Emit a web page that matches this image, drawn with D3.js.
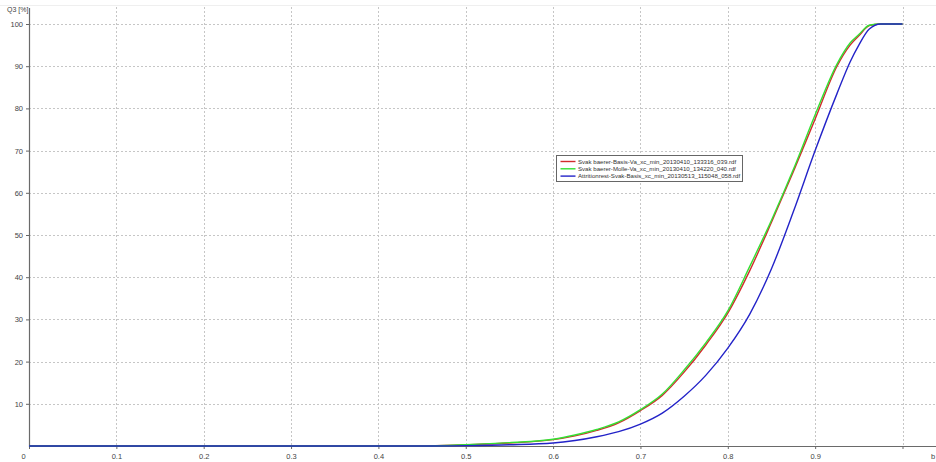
<!DOCTYPE html>
<html>
<head>
<meta charset="utf-8">
<script src="https://cdn.jsdelivr.net/npm/d3@7"></script>
<style>
  html, body { margin: 0; padding: 0; background: #fff; }
  svg { display: block; font-family: "Liberation Sans", Arial, sans-serif; }
</style>
</head>
<body>
<svg id="chart" width="936" height="462"></svg>
<script>
// Particle size (b) sample points shared by all series
const sizes = [0, 0.45, 0.5, 0.55, 0.6, 0.625, 0.65, 0.675, 0.7, 0.725, 0.75, 0.775, 0.8, 0.825, 0.85, 0.875, 0.9, 0.925, 0.94, 0.95, 0.962, 0.975, 1.0];

// Cumulative distribution Q3 [%] per measurement
const basisVa  = [0, 0, 0.3, 0.7, 1.5, 2.4, 3.7, 5.5, 8.4, 12, 17.5, 24, 31.5, 41.5, 53, 65, 77.5, 90, 95, 97.2, 99.6, 100, 100];
const molleVa  = [0, 0, 0.3, 0.8, 1.6, 2.6, 3.9, 5.7, 8.6, 12.3, 18, 24.5, 32, 42.5, 53.5, 65.5, 78.5, 90.5, 95.5, 97.5, 99.7, 100, 100];
const attrition = [0, 0, 0.1, 0.3, 0.7, 1.3, 2.2, 3.4, 5.2, 7.8, 11.8, 16.8, 23.2, 31.2, 42, 55.5, 70, 83.5, 91, 95, 98.8, 100, 100];

const seriesNames = [
  "Svak baerer-Basis-Va_xc_min_20130410_133316_039.rdf",
  "Svak baerer-Molle-Va_xc_min_20130410_134220_040.rdf",
  "Attritionrest-Svak-Basis_xc_min_20130513_115048_058.rdf"
];
const seriesColors = ["#d22c2c", "#33e033", "#2323c8"];
const seriesValues = [basisVa, molleVa, attrition];

const xTicks = [0, 0.1, 0.2, 0.3, 0.4, 0.5, 0.6, 0.7, 0.8, 0.9, 1.0];
const xTickLabels = ["0", "0.1", "0.2", "0.3", "0.4", "0.5", "0.6", "0.7", "0.8", "0.9", ""];
const yTicks = [10, 20, 30, 40, 50, 60, 70, 80, 90, 100];

const svg = d3.select("#chart");
const W = 936;
const plotLeft = 29, plotBottom = 446, plotTop = 24;

const x = d3.scaleLinear().domain([0, 1]).range([plotLeft, 902.5]);
const y = d3.scaleLinear().domain([0, 100]).range([plotBottom, plotTop]);

// faint frame line at the top
svg.append("line").attr("x1", 0).attr("x2", W).attr("y1", 5.5).attr("y2", 5.5)
  .attr("stroke", "#efefef").attr("stroke-width", 1);

// grid
const grid = svg.append("g").attr("stroke", "#c6c6c6").attr("stroke-dasharray", "2,2").attr("stroke-width", 1);
grid.selectAll("line.h").data(yTicks).join("line").attr("class", "h")
  .attr("x1", plotLeft).attr("x2", W)
  .attr("y1", d => Math.round(y(d)) + 0.5).attr("y2", d => Math.round(y(d)) + 0.5);
grid.selectAll("line.v").data(xTicks.slice(1)).join("line").attr("class", "v")
  .attr("y1", 7).attr("y2", plotBottom)
  .attr("x1", d => Math.round(x(d)) + 0.5).attr("x2", d => Math.round(x(d)) + 0.5);

// x axis
const xAxis = d3.axisBottom(x).tickValues(xTicks).tickSize(3).tickPadding(5)
  .tickFormat((d, i) => xTickLabels[i]);
const gx = svg.append("g").attr("transform", `translate(0,${plotBottom})`).call(xAxis);
gx.select(".domain").remove();
gx.selectAll(".tick line").attr("stroke", "#666");
gx.selectAll(".tick text").attr("fill", "#444").attr("font-size", 7.5)
  .attr("font-family", "Liberation Sans, Arial, sans-serif");
gx.selectAll(".tick text").filter(d => d === 0).attr("dx", -6);
svg.append("line").attr("x1", plotLeft).attr("x2", W).attr("y1", plotBottom + 0.5).attr("y2", plotBottom + 0.5)
  .attr("stroke", "#6a6a6a").attr("stroke-width", 1.2);
svg.append("text").attr("x", 931).attr("y", 459).attr("font-size", 7.5).attr("fill", "#444").text("b");

// y axis
const yAxis = d3.axisLeft(y).tickValues(yTicks).tickSize(3).tickPadding(3);
const gy = svg.append("g").attr("transform", `translate(${plotLeft},0)`).call(yAxis);
gy.select(".domain").remove();
gy.selectAll(".tick line").attr("stroke", "#666");
gy.selectAll(".tick text").attr("fill", "#444").attr("font-size", 7.5)
  .attr("font-family", "Liberation Sans, Arial, sans-serif");
svg.append("line").attr("x1", plotLeft + 0.5).attr("x2", plotLeft + 0.5).attr("y1", 8).attr("y2", plotBottom + 1)
  .attr("stroke", "#6a6a6a").attr("stroke-width", 1.2);
svg.append("text").attr("x", 7).attr("y", 12).attr("font-size", 7).attr("fill", "#444").text("Q3 [%]");

// curves
const line = d3.line().x(d => x(d[0])).y(d => y(d[1])).curve(d3.curveMonotoneX);
seriesValues.forEach((vals, i) => {
  svg.append("path")
    .datum(sizes.map((s, j) => [s, vals[j]]))
    .attr("fill", "none")
    .attr("stroke", seriesColors[i])
    .attr("stroke-width", 1.4)
    .attr("d", line);
});

// legend
const lg = svg.append("g").attr("transform", "translate(556.5,155.5)");
lg.append("rect").attr("width", 186).attr("height", 26).attr("fill", "#fff")
  .attr("stroke", "#666").attr("stroke-width", 1);
seriesNames.forEach((name, i) => {
  const yy = 6 + i * 7.3;
  lg.append("line").attr("x1", 4).attr("x2", 19).attr("y1", yy).attr("y2", yy)
    .attr("stroke", seriesColors[i]).attr("stroke-width", 1.4);
  lg.append("text").attr("x", 21.5).attr("y", yy + 2.3).attr("font-size", 6.1).attr("fill", "#333")
    .text(name);
});
</script>
</body>
</html>
